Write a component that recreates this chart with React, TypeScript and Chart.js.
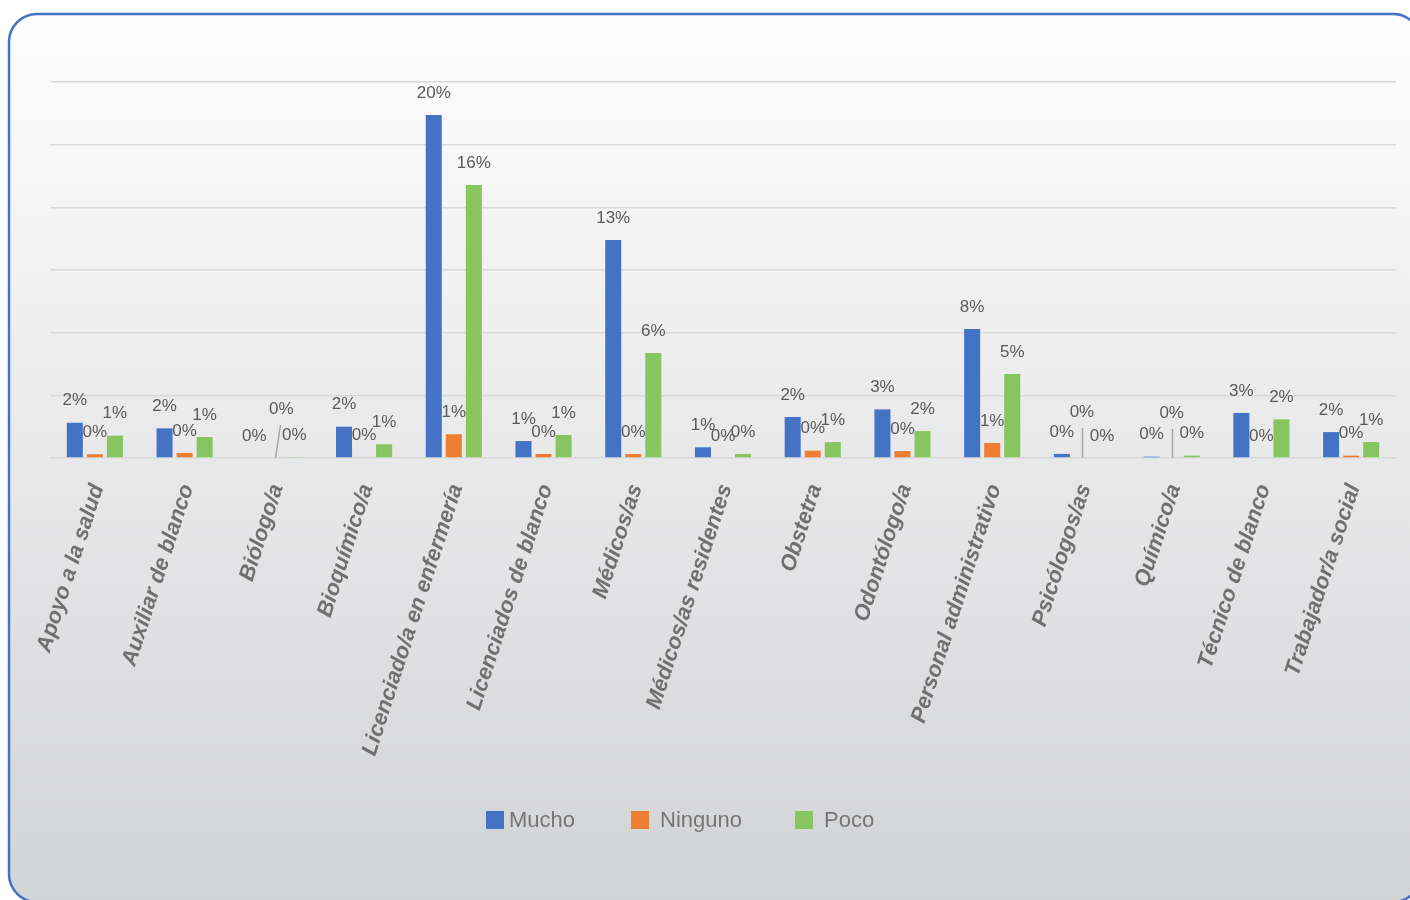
import React, { useEffect, useRef } from "react";
import { Chart, registerables } from "chart.js";

Chart.register(...registerables);

const categories = [
  "Apoyo a la salud",
  "Auxiliar de blanco",
  "Biólogo/a",
  "Bioquímico/a",
  "Licenciado/a en enfermería",
  "Licenciados de blanco",
  "Médicos/as",
  "Médicos/as residentes",
  "Obstetra",
  "Odontólogo/a",
  "Personal administrativo",
  "Psicólogos/as",
  "Químico/a",
  "Técnico de blanco",
  "Trabajador/a social",
];
const seriesNames = ["Mucho", "Ninguno", "Poco"];
const mucho = [2.08, 1.75, 0, 1.85, 20.25, 1.0, 12.87, 0.63, 2.42, 2.87, 7.62, 0.24, 0.08, 2.66, 1.53];
const ninguno = [0.22, 0.3, 0, 0.04, 1.4, 0.24, 0.24, 0, 0.43, 0.41, 0.89, 0, 0, 0, 0.14];
const poco = [1.32, 1.24, 0.06, 0.81, 16.12, 1.36, 6.2, 0.24, 0.94, 1.59, 4.96, 0, 0.14, 2.28, 0.94];
const yMax = 22.2;
const yStep = 3.7;

const colors = ["#4472C4", "#ED7D31", "#86C55F"];

// label nudges (styling only): series index, category index, label offset, leader end offsets
const nudges = [
  { s: 1, i: 2, dx: 7, dy: -27, a: 1, b: -1 },
  { s: 1, i: 11, dx: 0, dy: -24, a: 0, b: 0 },
  { s: 1, i: 12, dx: 0, dy: -23, a: 0, b: 0 },
];

const framePlugin = {
  id: "frame",
  beforeDraw(chart: any) {
    const ctx = chart.ctx;
    ctx.save();
    ctx.fillStyle = "#ffffff";
    ctx.fillRect(0, 0, chart.width, chart.height);
    const x0 = 9, y0 = 14, x1 = 1421, y1 = 902, r = 28;
    ctx.beginPath();
    ctx.moveTo(x0 + r, y0);
    ctx.lineTo(x1 - r, y0);
    ctx.arcTo(x1, y0, x1, y0 + r, r);
    ctx.lineTo(x1, y1 - r);
    ctx.arcTo(x1, y1, x1 - r, y1, r);
    ctx.lineTo(x0 + r, y1);
    ctx.arcTo(x0, y1, x0, y1 - r, r);
    ctx.lineTo(x0, y0 + r);
    ctx.arcTo(x0, y0, x0 + r, y0, r);
    ctx.closePath();
    const g = ctx.createLinearGradient(0, y0, 0, y1);
    g.addColorStop(0, "#fefefe");
    g.addColorStop(1, "#d2d3d5");
    ctx.fillStyle = g;
    ctx.fill();
    ctx.lineWidth = 2.5;
    ctx.strokeStyle = "#4472C4";
    ctx.stroke();
    ctx.restore();
  },
};

const labelsPlugin = {
  id: "customLabels",
  afterDatasetsDraw(chart: any) {
    const ctx = chart.ctx;
    const yScale = chart.scales.y;
    const base = yScale.getPixelForValue(0);
    ctx.save();
    ctx.font = "17px 'Liberation Sans', Arial, sans-serif";
    ctx.fillStyle = "#5a5a5a";
    ctx.textAlign = "center";
    ctx.textBaseline = "middle";
    chart.data.datasets.forEach((ds: any, s: number) => {
      const meta = chart.getDatasetMeta(s);
      meta.data.forEach((el: any, i: number) => {
        const v = ds.data[i];
        const n = nudges.find((q) => q.s === s && q.i === i);
        let x = el.x;
        let y = el.y - 22;
        if (n) {
          x += n.dx;
          y += n.dy;
          const lx0 = Math.round(el.x + n.a) + 0.5;
          const lx1 = Math.round(x + n.b) + 0.5;
          ctx.save();
          ctx.strokeStyle = "#a6a6a6";
          ctx.lineWidth = 1.5;
          ctx.beginPath();
          ctx.moveTo(lx0, base);
          ctx.lineTo(lx1, y + 16);
          ctx.stroke();
          ctx.restore();
        }
        ctx.fillText(Math.round(v) + "%", x, y);
      });
    });
    ctx.restore();
  },
  afterDraw(chart: any) {
    const ctx = chart.ctx;
    const xScale = chart.scales.x;
    ctx.save();
    // category labels
    ctx.font = "italic bold 22px 'Liberation Sans', Arial, sans-serif";
    ctx.fillStyle = "#707070";
    ctx.textAlign = "right";
    ctx.textBaseline = "middle";
    chart.data.labels.forEach((lab: string, i: number) => {
      const x = xScale.getPixelForValue(i) + 3;
      ctx.save();
      ctx.translate(x, 485);
      ctx.rotate((-72 * Math.PI) / 180);
      ctx.fillText(lab, 0, 0);
      ctx.restore();
    });
    // legend
    const lx = [486, 631, 795];
    const tOff = [23, 29, 29];
    ctx.font = "22px 'Liberation Sans', Arial, sans-serif";
    ctx.textAlign = "left";
    ctx.textBaseline = "middle";
    chart.data.datasets.forEach((ds: any, s: number) => {
      ctx.fillStyle = ds.backgroundColor;
      ctx.fillRect(lx[s], 811, 18, 18);
      ctx.fillStyle = "#767676";
      ctx.fillText(ds.label, lx[s] + tOff[s], 821);
    });
    ctx.restore();
  },
};

export default function App() {
  const ref = useRef<HTMLCanvasElement | null>(null);
  useEffect(() => {
    if (!ref.current) return;
    const values = [mucho, ninguno, poco];
    const chart = new Chart(ref.current, {
      type: "bar",
      data: {
        labels: categories,
        datasets: seriesNames.map((name, s) => ({
          label: name,
          data: values[s],
          backgroundColor: colors[s],
          borderWidth: 0,
          barPercentage: 0.8,
          categoryPercentage: 0.67,
        })),
      },
      options: {
        responsive: false,
        animation: false,
        devicePixelRatio: 1,
        layout: { padding: { left: 50, right: 14, top: 82, bottom: 442 } },
        plugins: { legend: { display: false }, tooltip: { enabled: false } },
        scales: {
          x: { display: false },
          y: {
            min: 0,
            max: yMax,
            ticks: { display: false, stepSize: yStep },
            grid: { color: "#d9d9d9", lineWidth: 1.5, drawTicks: false },
            border: { display: false },
          },
        },
      },
      plugins: [framePlugin, labelsPlugin],
    });
    return () => chart.destroy();
  }, []);
  return (
    <canvas
      ref={ref}
      width={1410}
      height={900}
      style={{ position: "absolute", left: 0, top: 0, display: "block" }}
    />
  );
}
